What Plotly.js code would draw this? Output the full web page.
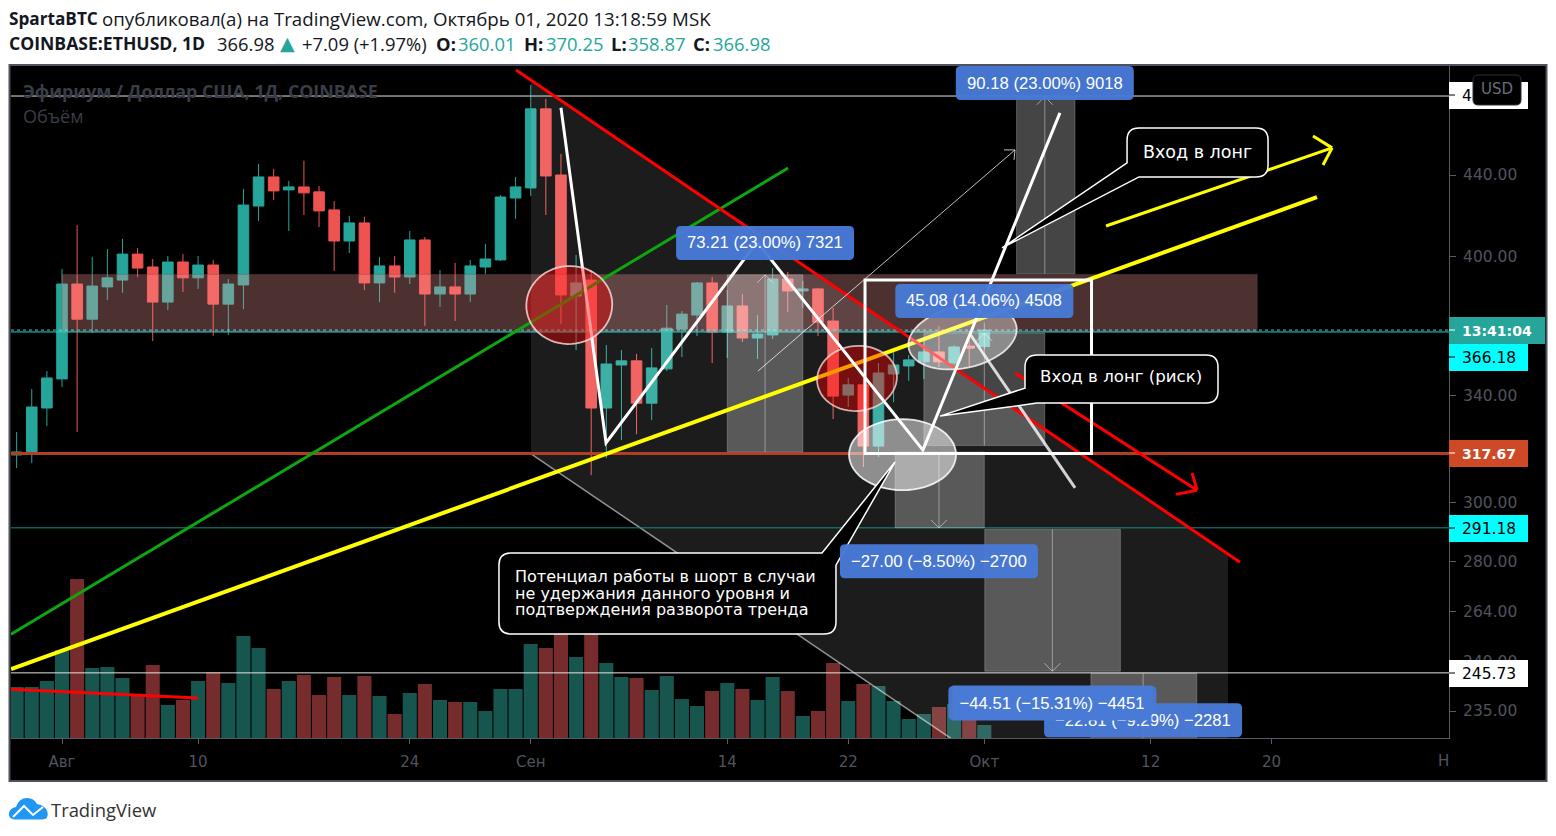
<!DOCTYPE html>
<html><head><meta charset="utf-8">
<script src="https://cdn.plot.ly/plotly-3.0.1.min.js"></script>
<style>html,body{margin:0;padding:0;background:#fff}#c{width:1556px;height:836px}</style>
</head><body><div id="c"></div>
<script>
// ---------- chart values ----------
const dates = ['2020-07-29','2020-07-30','2020-07-31',
'2020-08-01','2020-08-02','2020-08-03','2020-08-04','2020-08-05','2020-08-06','2020-08-07','2020-08-08','2020-08-09','2020-08-10',
'2020-08-11','2020-08-12','2020-08-13','2020-08-14','2020-08-15','2020-08-16','2020-08-17','2020-08-18','2020-08-19','2020-08-20',
'2020-08-21','2020-08-22','2020-08-23','2020-08-24','2020-08-25','2020-08-26','2020-08-27','2020-08-28','2020-08-29','2020-08-30','2020-08-31',
'2020-09-01','2020-09-02','2020-09-03','2020-09-04','2020-09-05','2020-09-06','2020-09-07','2020-09-08','2020-09-09','2020-09-10',
'2020-09-11','2020-09-12','2020-09-13','2020-09-14','2020-09-15','2020-09-16','2020-09-17','2020-09-18','2020-09-19','2020-09-20',
'2020-09-21','2020-09-22','2020-09-23','2020-09-24','2020-09-25','2020-09-26','2020-09-27','2020-09-28','2020-09-29','2020-09-30','2020-10-01'];
const opens = [317.1,318.2,335,
346.6,387.3,371.7,386,389.1,401.1,395.1,379.2,397.4,390.1,
396,378.3,386.9,424.3,439,432.4,433.9,431.4,422.4,407.3,
416,387.8,395.6,390.5,407.8,382.8,386,382.8,395.1,398.4,428.3,
433.4,475.4,440,381.9,389.1,335,352.3,354,336.9,350.7,
367.4,373.5,387.8,366.1,377.5,363.6,364.9,389.6,384.2,385.1,
370.9,340.1,344.2,320.4,348.6,351.9,353.6,357.7,353.1,360.2,360.01];
const highs = [325.7,342.5,349.8,
394.2,415,399.8,403.5,408.3,404,398.8,400.2,401.1,400.2,
398.4,389.6,432.9,445.8,443.1,437,447.4,434.4,426.8,419.5,
419,399.8,400.2,412.1,409.2,393.7,397,398.4,405.9,429.8,439,
488.9,481,451,400.7,393.7,360.6,358.5,356.9,359.3,377.9,
375.3,388.2,390.5,384.6,382.8,373.5,394.6,392.8,388.7,385.6,
376.6,347,347,353.1,358.5,356.4,364,368.7,360.6,364.9,370.25];
const lows = [312.3,314.1,328,
343.3,325.7,365.7,380.1,383.3,390.5,362.3,375.7,383.7,385.1,
364.4,364.9,376.1,417,427.3,412.1,419.9,414,393.3,401.6,
384.6,379.2,383.3,387.3,368.7,377,370.9,379.2,391.9,397.9,418,
429.3,419.9,369.5,358.5,309.7,315.9,322.7,324.9,330.3,349.8,
355.6,364.4,353.1,355.2,361.9,354.8,363.2,374.8,376.6,364.4,
330.7,335.4,312.6,316.3,337.3,345.8,346.6,351.5,352.3,351.5,358.87];
const closes = [318.2,335.4,347,
387.3,371.7,386.4,390.1,401.1,394.6,379.2,397.4,390.1,396,
378.3,387.3,424.8,439,431.9,433.9,430.9,421.9,407.3,416,
387.8,395.6,390.5,407.8,382.8,386,382.8,395.6,398.8,428.8,433.9,
475.4,439.5,382.4,387.8,335,352.7,354,336.9,351.1,367.8,
373.9,387.8,366.1,377.5,363.6,365.3,389.6,384.2,385.1,370.4,
339.7,344.2,320.4,349,352.3,354.4,357.7,353.6,359.8,359.3,366.98];
const volumes = [51,51,57,
88,159,70,71,60,42,73,33,38,57,66,55,102,90,49,57,63,43,61,43,62,42,24,45,54,38,36,36,27,49,49,
94,90,120,81,115,75,61,60,48,62,39,32,47,55,49,38,61,47,22,27,75,37,54,52,37,19,24,31,34,26,13];
const priceTicks = [440,400,340,300,280,264,249,235];
const priceTickText = ['440.00','400.00','340.00','300.00','280.00','264.00','249.00','235.00'];
const timeTicks = ['2020-08-01','2020-08-10','2020-08-24','2020-09-01','2020-09-14','2020-09-22','2020-10-01','2020-10-12','2020-10-20'];
const timeTickText = ['Авг','10','24','Сен','14','22','Окт','12','20'];
const header1 = 'опубликовал(а) на TradingView.com, Октябрь 01, 2020 13:18:59 MSK';
const shortNote = ['Потенциал работы в шорт в случаи','не удержания данного уровня и','подтверждения разворота тренда'];

// ---------- helpers ----------
const W=1556,H=836,PL=11,PR=1449,PT=66,PB=738;
const D0=Date.UTC(2020,7,1);
const t=i=>new Date(D0+i*864e5).toISOString().slice(0,19).replace('T',' ');
const tp=i=>t(i).replace(' ','_');
const L10=Math.log10;
const px=x=>(x-PL)/(PR-PL), py=y=>(PB-y)/(PB-PT);
const seg=(a,b,color,width,dash)=>({type:'line',xref:'x',yref:'y',x0:t(a[0]),y0:a[1],x1:t(b[0]),y1:b[1],line:{color,width,dash:dash||'solid'}});
const poly=(pts,color,width,fill,close)=>({type:'path',xref:'x',yref:'y',
  path:pts.map((p,k)=>(k?'L':'M')+tp(p[0])+','+p[1]).join(' ')+(close?' Z':''),
  line:{color:color||'rgba(0,0,0,0)',width:width||0},fillcolor:fill||'rgba(0,0,0,0)'});
const pix=(i,p,path,color,width,fill)=>({type:'path',xref:'x',yref:'y',xsizemode:'pixel',ysizemode:'pixel',
  xanchor:t(i),yanchor:p,path,line:{color:color||'rgba(0,0,0,0)',width:width||0},fillcolor:fill||'rgba(0,0,0,0)'});
const rect=(i0,i1,p0,p1,fill)=>({type:'rect',xref:'x',yref:'y',x0:t(i0),x1:t(i1),y0:p0,y1:p1,fillcolor:fill,line:{color:'rgba(255,255,255,.22)',width:1}});
const hline=(p,color,width,dash)=>({type:'line',xref:'paper',yref:'y',x0:0,x1:1,y0:p,y1:p,line:{color,width,dash:dash||'solid'}});
const ell=(i,p,rx,ry,deg,fill,line)=>{
  const a=deg*Math.PI/180;let s='';
  for(let k=0;k<60;k++){const u=k/60*2*Math.PI,x=rx*Math.cos(u),y=ry*Math.sin(u);
    s+=(k?'L':'M')+(x*Math.cos(a)-y*Math.sin(a)).toFixed(1)+','+(x*Math.sin(a)+y*Math.cos(a)).toFixed(1)+' ';}
  return pix(i,p,s+'Z',line,1.8,fill);
};
const P=(x,y)=>x+','+(-y);
const calloutLeft=(w,h,r,yb,xb,tip)=>'M'+P(r,0)+' L'+P(w-r,0)+' Q'+P(w,0)+' '+P(w,r)+' L'+P(w,h-r)+' Q'+P(w,h)+' '+P(w-r,h)+
  ' L'+P(xb,h)+' L'+P(tip[0],tip[1])+' L'+P(0,yb)+' L'+P(0,r)+' Q'+P(0,0)+' '+P(r,0)+' Z';
const calloutTop=(w,h,r,xa,yb,tip)=>'M'+P(r,0)+' L'+P(xa,0)+' L'+P(tip[0],tip[1])+' L'+P(w,yb)+' L'+P(w,h-r)+' Q'+P(w,h)+' '+P(w-r,h)+
  ' L'+P(r,h)+' Q'+P(0,h)+' '+P(0,h-r)+' L'+P(0,r)+' Q'+P(0,0)+' '+P(r,0)+' Z';
const rr=(w,h,r)=>{const a=w/2,b=h/2;return 'M'+(-a+r)+','+(-b)+' L'+(a-r)+','+(-b)+' Q'+a+','+(-b)+' '+a+','+(-b+r)+' L'+a+','+(b-r)+' Q'+a+','+b+' '+(a-r)+','+b+' L'+(-a+r)+','+b+' Q'+(-a)+','+b+' '+(-a)+','+(b-r)+' L'+(-a)+','+(-b+r)+' Q'+(-a)+','+(-b)+' '+(-a+r)+','+(-b)+' Z';};
const box=(x0,y0,x1,y1,fill,line,layer)=>({type:'rect',xref:'paper',yref:'paper',x0:px(x0),x1:px(x1),y0:py(y0),y1:py(y1),fillcolor:fill,line:line||{width:0},layer:layer||'above'});
const ptxt=(x,y,text,font,anchor,extra)=>Object.assign({xref:'paper',yref:'paper',x:px(x),y:py(y),text,showarrow:false,xanchor:anchor||'left',yanchor:'middle',font,borderpad:0,borderwidth:0},extra||{});

// ---------- colours ----------
const UP='#26a69a',DN='#ef5350',AX='#565a66',TXT='#50535e',BLUE='rgba(72,122,214,.96)',GRAYFILL='rgba(255,255,255,.27)';
const WHITE='#ffffff',RED='#ff0000',YEL='#ffff00',GRN='#0ea50e';
const AF='"DejaVu Sans",sans-serif',HF='"Open Sans",sans-serif',CF='"DejaVu Sans",sans-serif',LF='"Liberation Sans",Arial,sans-serif';

// ---------- traces ----------
const volTrace={type:'bar',x:dates,y:volumes,yaxis:'y2',xaxis:'x',
  marker:{color:closes.map((c,k)=>c>=opens[k]?'#17564f':'#762c2c'),line:{width:0}},showlegend:false,hoverinfo:'skip'};
const candle={type:'candlestick',x:dates,open:opens,high:highs,low:lows,close:closes,xaxis:'x',yaxis:'y',whiskerwidth:0,showlegend:false,hoverinfo:'skip',
  increasing:{line:{color:UP,width:1},fillcolor:UP},decreasing:{line:{color:DN,width:1},fillcolor:DN}};

// ---------- drawings ----------
const labels=[
 {s:'73.21 (23.00%) 7321',i:46.5,p:406.4,w:178},
 {s:'90.18 (23.00%) 9018',i:65,p:490,w:178},
 {s:'45.08 (14.06%) 4508',i:61,p:379.7,w:178},
 {s:'−27.00 (−8.50%) −2700',i:58,p:280,w:198},
 {s:'−22.81 (−9.29%) −2281',i:71.5,p:232.5,w:198},
 {s:'−44.51 (−15.31%) −4451',i:65.5,p:237.2,w:208}
];
const rects=[[44,49,318.3,391.5],[55.1,61,318.18,291.18],[61.03,70,290.7,246.2],[68.05,75.05,245.6,222.8],[63.13,67,392,482.2],[57,65,320.6,365.68]];
const stems=[[46.5,318.3,391.5,1],[58,318.18,291.18,-1],[65.5,290.7,246.2,-1],[71.5,245.6,222.8,-1],[65,392,482.2,1],[61,320.6,365.68,1]];
const sh=[];
sh.push(box(9.5,65,1546.5,781,'#000000',{color:'#50535e',width:2},'below'));
// channel fill + lower border
sh.push(poly([[31.02,491.7],[77.12,282.4],[77.12,182.7],[31.02,317.5]],null,0,'rgba(255,255,255,.11)',true));
sh.push(seg([31.02,317.5],[77.12,182.7],'rgba(255,255,255,.55)',1.5));
// resistance zone
sh.push({type:'rect',xref:'x',yref:'y',x0:t(0),x1:t(79.05),y0:366.2,y1:391.7,fillcolor:'rgba(255,160,160,.30)',line:{color:'rgba(120,80,80,.35)',width:1}});
// horizontals
sh.push(hline(482.6,'#e4e4e4',1));
sh.push(hline(366.98,'rgba(130,225,215,.85)',1,'dot'));
sh.push(hline(366.18,'#14d8d8',1));
sh.push(hline(291.18,'#0f8f8a',1));
sh.push(hline(245.73,'#e4e4e4',1));
sh.push(hline(317.67,'#b23f25',3));
// measure rects and their arrows
rects.forEach(r=>sh.push(rect(r[0],r[1],r[2],r[3],GRAYFILL)));
stems.forEach(s=>{
  sh.push(seg([s[0],s[1]],[s[0],s[2]],'rgba(255,255,255,.4)',1));
  sh.push(pix(s[0],s[2],s[3]>0?'M-8,-8 L0,0 L8,-8':'M-8,8 L0,0 L8,8','rgba(255,255,255,.5)',1));
});
// trend lines
sh.push(seg([-3.37,257.1],[48.02,443.6],GRN,3));
sh.push(seg([-3.37,246.8],[83,428.8],YEL,4));
sh.push(seg([69.05,414.5],[84,454.2],YEL,3));
sh.push(seg([82.74,460.5],[84,454.2],YEL,3));
sh.push(seg([83.4,445.2],[84,454.2],YEL,3));
sh.push(seg([30.03,497.5],[77.91,279.7],RED,3));
sh.push(seg([63.03,349],[75.07,304.3],RED,3));
sh.push(seg([73.68,302.8],[75.07,304.3],RED,3));
sh.push(seg([74.74,310.5],[75.07,304.3],RED,3));
sh.push(seg([-3.37,241.1],[8.99,238.6],RED,3));
// thin arrow
sh.push(seg([46.03,349.8],[63.03,453.1],'rgba(255,255,255,.75)',1));
sh.push(pix(63.03,453.1,'M-11,0 L0,0 L-1,-10','rgba(255,255,255,.75)',1));
// ellipses below the zigzag
sh.push(ell(52.58,346.8,40,32.5,6,'rgba(255,0,0,.4)','rgba(255,225,225,.75)'));
sh.push(ell(55.59,317.2,53.5,35.5,0,'rgba(255,255,255,.5)','rgba(255,255,255,.85)'));
sh.push(ell(59.56,364,55,31,12,'rgba(255,255,255,.38)','rgba(255,255,255,.8)'));
// zigzag
sh.push(poly([[33,476],[35.98,321.6],[45.97,406.8],[56.94,318.9],[66,473.2]],WHITE,3));
sh.push(seg([60.05,365.3],[67,305.1],'rgba(255,255,255,.8)',3));
sh.push(ell(33.55,377.9,43,39,4,'rgba(255,0,0,.4)','rgba(255,225,225,.8)'));
// white box
sh.push({type:'rect',xref:'x',yref:'y',x0:t(53.11),x1:t(68.09),y0:317.67,y1:389.1,fillcolor:'rgba(0,0,0,0)',line:{color:WHITE,width:3}});
// callouts
sh.push(pix(70.44,464.9,calloutLeft(141,49,12,35,12,[-125,120]),WHITE,1.5,'#000000'));
sh.push(pix(63.69,356.4,calloutLeft(193,48,12,33,12,[-85,61]),WHITE,1.5,'#000000'));
sh.push(pix(28.9,282.7,calloutTop(337,81,12,323,12,[396,-91]),WHITE,1.5,'#000000'));
// blue measure labels
labels.forEach(l=>sh.push(pix(l.i,l.p,rr(l.w,34,5),null,0,BLUE)));
// price-scale plates
const plates=[[82,109,1528,'#ffffff'],[317,344,1545,UP],[344,371,1528,'#00ffff'],[440,467,1528,'#ce4a27'],[515,542,1528,'#00ffff'],[660,687,1528,'#ffffff']];
const plateTickCol=['#000','#fff','#000','#fff','#000','#000'];
plates.forEach((b,k)=>{
  sh.push(box(1449,b[0],b[2],b[1],b[3]));
  const m=(b[0]+b[1])/2-0.5;
  sh.push({type:'line',xref:'paper',yref:'paper',x0:px(1449),x1:px(1455),y0:py(m),y1:py(m),line:{color:plateTickCol[k],width:1}});
});
// USD button
sh.push({type:'path',xref:'paper',yref:'paper',line:{color:'#2a2e39',width:1},fillcolor:'#000000',
  path:'M'+px(1478)+','+py(75)+' L'+px(1516)+','+py(75)+' Q'+px(1521)+','+py(75)+' '+px(1521)+','+py(80)+' L'+px(1521)+','+py(100)+' Q'+px(1521)+','+py(105)+' '+px(1516)+','+py(105)+' L'+px(1478)+','+py(105)+' Q'+px(1473)+','+py(105)+' '+px(1473)+','+py(100)+' L'+px(1473)+','+py(80)+' Q'+px(1473)+','+py(75)+' '+px(1478)+','+py(75)+' Z'});
// logo
const pt=(x,y)=>px(x)+','+py(y);
sh.push({type:'path',xref:'paper',yref:'paper',fillcolor:'#2196f3',line:{width:0},
  path:'M'+pt(14,819.5)+' Q'+pt(8,818)+' '+pt(9,813)+' Q'+pt(10,808)+' '+pt(16,807)+' Q'+pt(19,798)+' '+pt(27,798)+' Q'+pt(34,798)+' '+pt(37,804)+' Q'+pt(45,805)+' '+pt(47.5,812)+' Q'+pt(49,819.5)+' '+pt(42,819.5)+' Z'});
sh.push({type:'path',xref:'paper',yref:'paper',fillcolor:'rgba(0,0,0,0)',line:{color:'#ffffff',width:2},
  path:'M'+pt(13,817)+' L'+pt(24,806)+' L'+pt(33,815)+' L'+pt(43,807)});

// ---------- annotations ----------
const an=[];
const HFONT={family:HF,size:18.4,color:'#131722'};
const HBOLD={family:HF,size:17.6,color:'#131722'};
const UPFONT={family:HF,size:18.4,color:UP};
an.push(ptxt(9,18,'<b>SpartaBTC</b>',{family:HF,size:17.2,color:'#131722'}));
an.push(ptxt(102,18,header1,{family:HF,size:18.7,color:'#131722'}));
[[9,'<b>COINBASE:ETHUSD, 1D</b>',HBOLD],[217,'366.98',HFONT],[280,'▲',{family:AF,size:19,color:UP}],[302,'+7.09 (+1.97%)',HFONT],
 [436,'<b>O:</b>',HFONT],[458,'360.01',UPFONT],[524,'<b>H:</b>',HFONT],[546,'370.25',UPFONT],
 [611,'<b>L:</b>',HFONT],[628,'358.87',UPFONT],[693,'<b>C:</b>',HFONT],[713,'366.98',UPFONT]
].forEach(h=>an.push(ptxt(h[0],43,h[1],h[2])));
an.push(ptxt(23,91,'<b>Эфириум / Доллар США, 1Д, COINBASE</b>',{family:HF,size:17.8,color:'#3a3d48'}));
an.push(ptxt(23,116,'Объём',{family:HF,size:18,color:'#3a3d48'}));
labels.forEach(l=>{
  const a={xref:'x',yref:'y',x:t(l.i),y:L10(l.p),text:l.s,showarrow:false,font:{family:LF,size:16.7,color:'#ffffff'}};
  if(l.w===208){a.bgcolor='rgb(72,122,214)';a.width=l.w-12;a.height=32;a.align='center';}
  an.push(a);
});
an.push({xref:'x',yref:'y',x:t(75.1),y:L10(452),text:'Вход в лонг',showarrow:false,font:{family:CF,size:17.5,color:'#fff'}});
an.push({xref:'x',yref:'y',x:t(70.07),y:L10(347.4),text:'Вход в лонг (риск)',showarrow:false,font:{family:CF,size:16.6,color:'#fff'}});
[275.2,269.8,264.5].forEach((p,k)=>an.push({xref:'x',yref:'y',x:t(29.96),y:L10(p),text:shortNote[k],xanchor:'left',borderpad:0,borderwidth:0,showarrow:false,font:{family:CF,size:16,color:'#fff'}}));
const num=c=>({family:AF,size:15.5,color:c});
const numb=c=>({family:AF,size:14,color:c});
an.push(ptxt(1462,95.5,'4',num('#000')));
an.push(ptxt(1462,330.5,'<b>13:41:04</b>',numb('#fff')));
an.push(ptxt(1462,357.5,'366.18',num('#000')));
an.push(ptxt(1462,453.5,'<b>317.67</b>',numb('#fff')));
an.push(ptxt(1462,528.5,'291.18',num('#000')));
an.push(ptxt(1462,673.5,'245.73',num('#000')));
an.push(ptxt(1481,89,'USD',{family:AF,size:15,color:'#6a6d78'}));
an.push(ptxt(1443,761,'Н',{family:AF,size:15,color:TXT},'center'));
an.push(ptxt(51,809,'TradingView',{family:'"Open Sans",sans-serif',size:18.4,color:'#333333'}));

// ---------- layout ----------
const layout={
  width:W,height:H,autosize:false,showlegend:false,dragmode:false,
  paper_bgcolor:'#ffffff',plot_bgcolor:'#000000',
  margin:{l:PL,r:W-PR,t:PT,b:H-PB,pad:0},
  bargap:0.07,boxgap:0.3,boxgroupgap:0,
  xaxis:{type:'date',range:[t(-3.373),t(91.733)],rangeslider:{visible:false},showgrid:false,zeroline:false,
    showline:true,linecolor:AX,linewidth:1,ticks:'outside',ticklen:5,tickcolor:AX,tickmode:'array',tickvals:timeTicks,ticktext:timeTickText,
    tickfont:{family:AF,size:15,color:TXT},ticklabelstandoff:5},
  yaxis:{type:'log',side:'right',range:[L10(227.7),L10(499.85)],showgrid:false,zeroline:false,
    showline:true,linecolor:AX,linewidth:1,ticks:'outside',ticklen:6,tickcolor:AX,tickmode:'array',tickvals:priceTicks,ticktext:priceTickText,
    tickfont:{family:AF,size:15.5,color:TXT},ticklabelstandoff:4},
  yaxis2:{overlaying:'y',side:'left',range:[0,672],visible:false,showgrid:false,zeroline:false},
  shapes:sh,annotations:an
};
Plotly.newPlot('c',[volTrace,candle],layout,{displayModeBar:false,staticPlot:true});
</script></body></html>
